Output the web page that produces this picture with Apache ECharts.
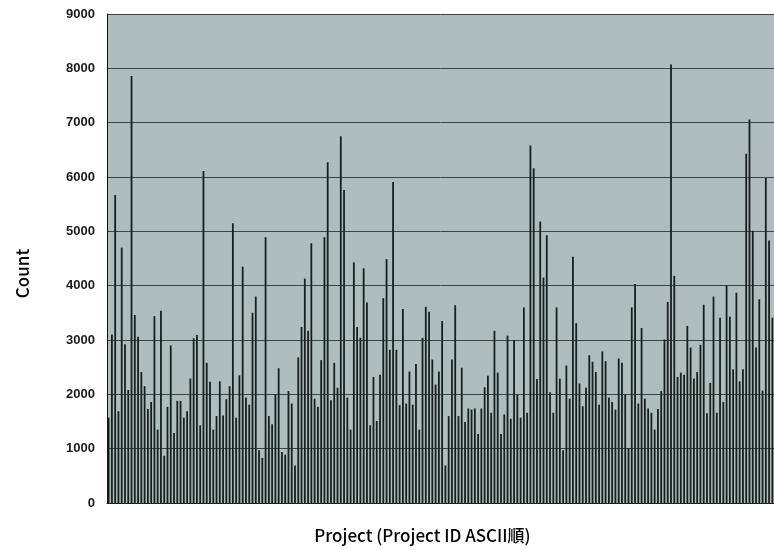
<!DOCTYPE html>
<html>
<head>
<meta charset="utf-8">
<script src="https://cdn.jsdelivr.net/npm/echarts@6/dist/echarts.min.js"></script>
<style>
html,body{margin:0;padding:0;background:#fff;}
#c{width:774px;height:550px;}
</style>
</head>
<body>
<div id="c"></div>
<script>
var counts = [
1570,3100,5670,1690,4700,2920,2080,7860,3460,3060,
2410,2150,1730,1860,3440,1350,3540,870,1770,2900,
1290,1880,1880,1570,1690,2290,3030,3090,1430,6110,
2580,2230,1350,1600,2240,1610,1910,2150,5150,1570,
2350,4350,1940,1810,3500,3800,970,830,4890,1600,
1450,2000,2480,940,890,2060,1830,690,2680,3240,
4130,3170,4780,1920,1770,2630,4890,6270,1890,2580,
2120,6750,5760,1940,1350,4430,3240,3040,4320,3690,
1430,2320,1510,2360,3770,4490,2820,5910,2820,1800,
3570,1830,2420,1810,2560,1350,3040,3610,3520,2640,
2180,2420,3350,690,1600,2640,3640,1600,2490,1490,
1740,1720,1740,1270,1740,2130,2340,1660,3170,2400,
1270,1630,3080,1550,3000,1990,1570,3600,1660,6580,
6160,2280,5180,4150,4930,2040,1660,3600,2290,970,
2530,1920,4530,3310,2200,1780,2120,2720,2600,2410,
1810,2790,2610,1940,1860,1720,2660,2580,1990,1010,
3600,4030,1830,3220,1920,1740,1660,1350,1730,2060,
3010,3700,8070,4180,2320,2400,2360,3260,2860,2290,
2410,2910,3650,1650,2210,3800,1660,3410,1860,4000,
3430,2460,3870,2240,2460,6430,7060,5010,2860,3750,
2070,5980,4830,3410
];
var projects = counts.map(function(_, i){ return 'P' + (i + 1); });
var yTicks = [0,1000,2000,3000,4000,5000,6000,7000,8000,9000];

var chart = echarts.init(document.getElementById('c'), null, {renderer:'canvas'});
chart.setOption({
  animation: false,
  backgroundColor: '#ffffff',
  grid: {left:107, right:0, top:14, bottom:47, show:true, backgroundColor:'#afbebc', borderWidth:0},
  xAxis: {
    type:'category', data: projects, boundaryGap:true,
    axisLine:{show:true, lineStyle:{color:'#1a2222', width:1}},
    axisTick:{show:false}, axisLabel:{show:false},
    name:'Project (Project ID ASCII順)', nameLocation:'middle', nameGap:24,
    nameTextStyle:{fontFamily:'Noto Sans CJK JP', fontSize:17, fontWeight:500, color:'#000', padding:[0,36,0,0]}
  },
  yAxis: {
    type:'value', min:yTicks[0], max:yTicks[yTicks.length-1], interval:1000,
    axisLine:{show:true, lineStyle:{color:'#111', width:1}},
    axisTick:{show:false},
    axisLabel:{fontFamily:'Liberation Sans', fontSize:13, fontWeight:'bold', color:'#1a1a1a', margin:12,
      formatter:function(v){ return String(v); }},
    splitLine:{show:true, lineStyle:{color:'#3a4646', width:1}},
    name:'Count', nameLocation:'middle', nameGap:76, nameRotate:90,
    nameTextStyle:{fontFamily:'Noto Sans CJK JP', fontSize:17, fontWeight:500, color:'#000', padding:[0,30,0,0]}
  },
  series: [{
    type:'bar', data: counts, barWidth:1.8,
    itemStyle:{color:'#17201f'}
  }]
});
</script>
</body>
</html>
